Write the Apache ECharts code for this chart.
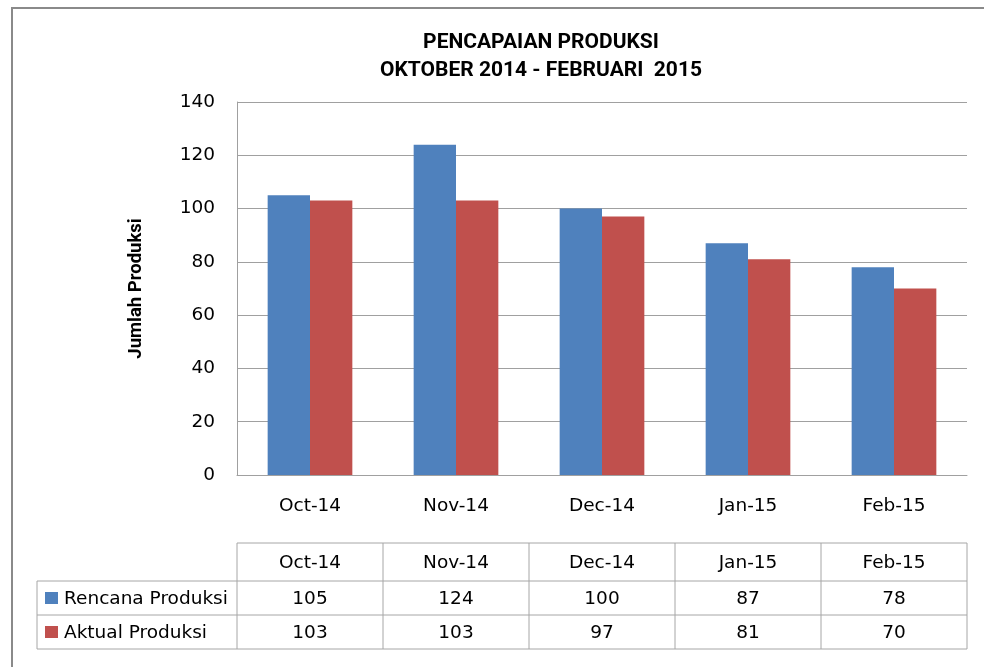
<!DOCTYPE html>
<html>
<head>
<meta charset="utf-8">
<script src="https://cdn.jsdelivr.net/npm/echarts@6/dist/echarts.min.js"></script>
<style>
html,body{margin:0;padding:0;background:#fff;}
#c{width:984px;height:667px;}
</style>
</head>
<body>
<div id="c"></div>
<script>
const categories = ['Oct-14', 'Nov-14', 'Dec-14', 'Jan-15', 'Feb-15'];
const seriesNames = ['Rencana Produksi', 'Aktual Produksi'];
const rencana = [105, 124, 100, 87, 78];
const aktual = [103, 103, 97, 81, 70];
const yTicks = { min: 0, max: 140, interval: 20 };
const titleLines = ['PENCAPAIAN PRODUKSI', 'OKTOBER 2014 - FEBRUARI  2015'];
const yAxisName = 'Jumlah Produksi';
const colors = ['#4F81BD', '#C0504D'];

const FONT = '"DejaVu Sans", sans-serif';
const BOLD = 'Roboto, "DejaVu Sans", sans-serif';
const FS = 18.5;

const chart = echarts.init(document.getElementById('c'));
const gridLeft = 237, gridRight = 17, gridTop = 102, gridBottom = 192;

chart.setOption({
  animation: false,
  backgroundColor: '#fff',
  title: {
    text: titleLines.join('\n'),
    left: 536, top: 24,
    textAlign: 'center',
    textStyle: { fontFamily: BOLD, fontWeight: 'bold', fontSize: 21, lineHeight: 28, color: '#000' }
  },
  grid: { left: gridLeft, right: gridRight, top: gridTop, bottom: gridBottom },
  xAxis: {
    type: 'category',
    data: categories,
    axisLine: { lineStyle: { color: '#a0a0a0', width: 1 } },
    axisTick: { show: false },
    axisLabel: { margin: 22, fontFamily: FONT, fontSize: FS, color: '#000' }
  },
  yAxis: {
    type: 'value',
    min: yTicks.min, max: yTicks.max, interval: yTicks.interval,
    name: yAxisName,
    nameLocation: 'middle',
    nameGap: 91,
    nameRotate: 90,
    nameTextStyle: { fontFamily: BOLD, fontWeight: 'bold', fontSize: 18.5, color: '#000' },
    axisLine: { show: true, lineStyle: { color: '#a0a0a0', width: 1 } },
    axisTick: { show: false },
    axisLabel: { margin: 22, fontFamily: FONT, fontSize: FS, color: '#000' },
    splitLine: { lineStyle: { color: '#a0a0a0', width: 1 } }
  },
  series: [
    { name: seriesNames[0], type: 'bar', data: rencana, itemStyle: { color: colors[0] }, barGap: '0%', barCategoryGap: '42%' },
    { name: seriesNames[1], type: 'bar', data: aktual, itemStyle: { color: colors[1] }, barGap: '0%', barCategoryGap: '42%' }
  ]
});

// Data table under the chart, aligned to the category bands
const c0 = chart.convertToPixel({ xAxisIndex: 0 }, 0);
const c1 = chart.convertToPixel({ xAxisIndex: 0 }, 1);
const band = c1 - c0;
const tableLeftX = 37;
const colStart = c0 - band / 2;
const colEnd = colStart + band * categories.length;
const rowY = [543, 581, 615, 649];
const lineColor = '#a6a6a6';
const g = [];

// outer chart border
g.push({ type: 'rect', shape: { x: 12, y: 8, width: 1100, height: 800 }, style: { fill: 'none', stroke: '#8a8a8a', lineWidth: 2 }, silent: true });

function hline(x1, x2, y) { g.push({ type: 'line', shape: { x1, y1: y, x2, y2: y }, style: { stroke: lineColor, lineWidth: 1 }, silent: true }); }
function vline(x, y1, y2) { g.push({ type: 'line', shape: { x1: x, y1, x2: x, y2 }, style: { stroke: lineColor, lineWidth: 1 }, silent: true }); }

hline(colStart, colEnd, rowY[0]);
hline(tableLeftX, colEnd, rowY[1]);
hline(tableLeftX, colEnd, rowY[2]);
hline(tableLeftX, colEnd, rowY[3]);
vline(tableLeftX, rowY[1], rowY[3]);
for (let i = 0; i <= categories.length; i++) {
  vline(colStart + band * i, rowY[0], rowY[3]);
}

function txt(x, y, s, align) {
  g.push({ type: 'text', x, y, silent: true, style: { text: String(s), fontFamily: FONT, fontSize: FS, fill: '#000', align: align || 'center', verticalAlign: 'middle' } });
}
categories.forEach((cat, i) => {
  const cx = chart.convertToPixel({ xAxisIndex: 0 }, i);
  txt(cx, (rowY[0] + rowY[1]) / 2 + 1, cat);
  txt(cx, (rowY[1] + rowY[2]) / 2 + 1, rencana[i]);
  txt(cx, (rowY[2] + rowY[3]) / 2 + 1, aktual[i]);
});
[0, 1].forEach(k => {
  const cy = (rowY[k + 1] + rowY[k + 2]) / 2;
  g.push({ type: 'rect', silent: true, shape: { x: 45, y: cy - 6, width: 13, height: 12 }, style: { fill: colors[k] } });
  txt(64, cy + 1, seriesNames[k], 'left');
});

chart.setOption({ graphic: g });
</script>
</body>
</html>
